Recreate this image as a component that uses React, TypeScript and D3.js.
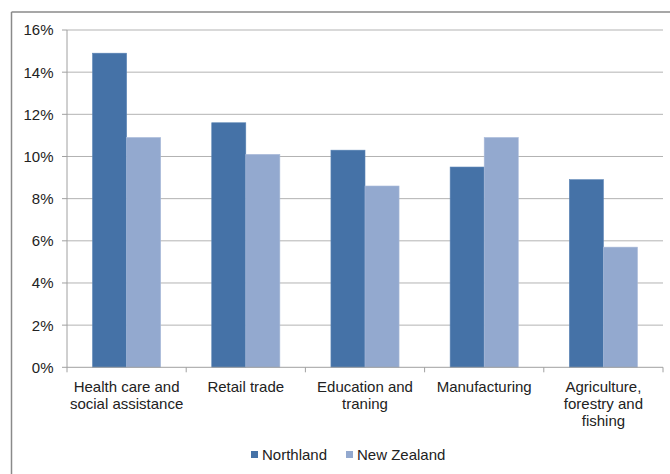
import React from "react";
import * as d3 from "d3";

const categories = [
  ["Health care and", "social assistance"],
  ["Retail trade"],
  ["Education and", "traning"],
  ["Manufacturing"],
  ["Agriculture,", "forestry and", "fishing"],
];
const seriesNames = ["Northland", "New Zealand"];
const northland = [14.9, 11.6, 10.3, 9.5, 8.9];
const newZealand = [10.9, 10.1, 8.6, 10.9, 5.7];
const yTicks = [0, 2, 4, 6, 8, 10, 12, 14, 16];
const colors = ["#4572A7", "#93A9CF"];

export default function App() {
  const W = 670, H = 474;
  const left = 67, right = 663, top = 30, bottom = 367.3;
  const keys = categories.map((_, i) => String(i));
  const x = d3.scaleBand().domain(keys).range([left, right]).paddingInner(0).paddingOuter(0);
  const inner = d3.scaleBand().domain(seriesNames).range([0, x.bandwidth()]).paddingInner(0).paddingOuter(0.75);
  const y = d3.scaleLinear().domain([0, 16]).range([bottom, top]);
  const data = [northland, newZealand];
  const font = "'Liberation Sans', Arial, sans-serif";
  const fs = 15;

  return (
    <svg width={W} height={H} style={{ position: "absolute", left: 0, top: 0, background: "#fff" }} fontFamily={font}>
      <rect x={0} y={0} width={W} height={H} fill="#fff" />
      <line x1={11.5} x2={W} y1={12} y2={12} stroke="#8a8a8a" strokeWidth={1.5} />
      <line x1={11.5} x2={11.5} y1={12} y2={H} stroke="#8a8a8a" strokeWidth={1.5} />
      {yTicks.map((t) => (
        <g key={t}>
          {t > 0 && <line x1={left} x2={right} y1={y(t)} y2={y(t)} stroke="#b3b3b3" strokeWidth={1} />}
          <line x1={left - 5} x2={left} y1={y(t)} y2={y(t)} stroke="#a0a0a0" />
          <text x={53.5} y={y(t)} dy="0.36em" textAnchor="end" fontSize={fs} fill="#222">{t}%</text>
        </g>
      ))}
      {data.map((vals, s) =>
        vals.map((v, i) => (
          <rect
            key={s + "-" + i}
            x={(x(String(i)) as number) + (inner(seriesNames[s]) as number)}
            y={y(v)}
            width={inner.bandwidth()}
            height={bottom - y(v)}
            fill={colors[s]}
            stroke={s === 0 ? "#5a84b5" : "#a8bad9"}
            strokeWidth={0.6}
          />
        ))
      )}
      <line x1={left} x2={left} y1={top} y2={bottom} stroke="#a0a0a0" />
      <line x1={left} x2={right} y1={bottom} y2={bottom} stroke="#a0a0a0" />
      {keys.concat([String(keys.length)]).map((k, i) => {
        const xx = i < keys.length ? (x(k) as number) : right;
        return <line key={"t" + i} x1={xx} x2={xx} y1={bottom} y2={bottom + 5} stroke="#a0a0a0" />;
      })}
      {categories.map((lines, i) => (
        <text key={"c" + i} x={(x(String(i)) as number) + x.bandwidth() / 2} y={392} textAnchor="middle" fontSize={fs} fill="#222">
          {lines.map((l, j) => (
            <tspan key={j} x={(x(String(i)) as number) + x.bandwidth() / 2} dy={j === 0 ? 0 : 17}>{l}</tspan>
          ))}
        </text>
      ))}
      {seriesNames.map((n, s) => {
        const lx = s === 0 ? 251 : 346;
        return (
          <g key={n}>
            <rect x={lx} y={451} width={7} height={7} fill={colors[s]} />
            <text x={lx + 11} y={460} fontSize={fs} fill="#222">{n}</text>
          </g>
        );
      })}
    </svg>
  );
}
